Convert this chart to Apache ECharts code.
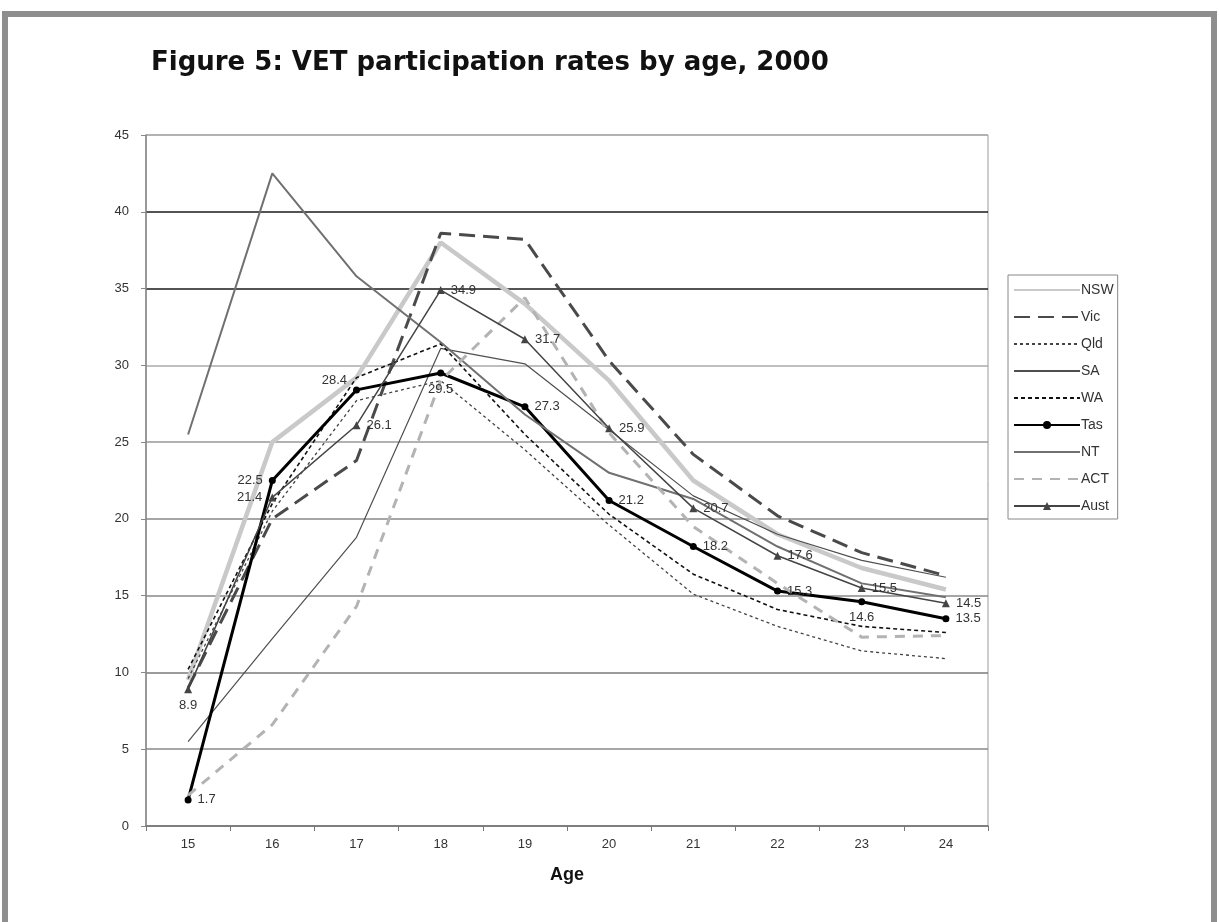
<!DOCTYPE html>
<html>
<head>
<meta charset="utf-8">
<script src="https://cdn.jsdelivr.net/npm/echarts@6/dist/echarts.min.js"></script>
<style>
  html, body { margin: 0; padding: 0; background: #fff; }
  #frame {
    position: absolute; left: 2px; top: 11px; width: 1203px; height: 930px;
    border: 6px solid #8e8e8e; border-bottom: none; pointer-events: none;
  }
  #vetChart { position: absolute; left: 0; top: 0; width: 1219px; height: 922px; }
</style>
</head>
<body>
<div id="vetChart"></div>
<div id="frame"></div>
<script>
// ages on the x axis
const ages = ['15', '16', '17', '18', '19', '20', '21', '22', '23', '24']
const yTicks = [0, 5, 10, 15, 20, 25, 30, 35, 40, 45]
const states = ['NSW', 'Vic', 'Qld', 'SA', 'WA', 'Tas', 'NT', 'ACT', 'Aust']

// participation rates (%)
const nsw = [9.5, 25.0, 29.2, 38.0, 34.0, 29.0, 22.5, 19.0, 16.8, 15.4]
const vic = [9.0, 20.0, 23.8, 38.6, 38.2, 30.3, 24.2, 20.2, 17.8, 16.3]
const qld = [9.6, 20.5, 27.7, 29.0, 24.5, 19.6, 15.1, 13.0, 11.4, 10.9]
const sa = [5.5, 12.2, 18.8, 31.1, 30.1, 25.8, 21.5, 19.0, 17.3, 16.2]
const wa = [10.2, 21.0, 29.2, 31.4, 25.5, 20.3, 16.4, 14.1, 13.0, 12.6]
const tas = [1.7, 22.5, 28.4, 29.5, 27.3, 21.2, 18.2, 15.3, 14.6, 13.5]
const nt = [25.5, 42.5, 35.8, 31.5, 26.8, 23.0, 21.3, 18.2, 15.8, 14.9]
const act = [2.0, 6.6, 14.3, 29.0, 34.4, 25.6, 19.5, 15.8, 12.3, 12.4]
const aust = [8.9, 21.4, 26.1, 34.9, 31.7, 25.9, 20.7, 17.6, 15.5, 14.5]

const chart = echarts.init(document.getElementById('vetChart'))

// where the value labels sit around each marker
const tasLabelAt = ['right', 'left', 'upleft', 'bottom', 'right', 'right', 'right', 'right', 'bottom', 'right']
const austLabelAt = ['bottom', 'left', 'right', 'right', 'right', 'right', 'right', 'right', 'right', 'right']

const labelText = { fontFamily: 'Liberation Sans, Arial, sans-serif', fontSize: 13, color: '#333' }

function labelled(values, places) {
  return values.map((v, i) => {
    let p = places[i]
    let label = Object.assign({ show: true, position: p, distance: 6 }, labelText)
    if (p === 'upleft') {
      label.position = 'left'
      label.offset = [0, -9]
    }
    return { value: v, label: label }
  })
}

function plain(name, values, color, width, type) {
  return {
    name: name,
    type: 'line',
    data: values,
    symbol: 'none',
    lineStyle: { color: color, width: width, type: type || 'solid' },
    itemStyle: { color: color },
    emphasis: { disabled: true }
  }
}

// only Tas and Aust carry markers, so hide the legend dot for the rest
const legendItems = states.map(s => {
  if (s === 'Tas' || s === 'Aust') return { name: s }
  return { name: s, itemStyle: { opacity: 0 } }
})

const option = {
  animation: false,
  title: {
    text: 'Figure 5: VET participation rates by age, 2000',
    left: 146,
    top: 45,
    textStyle: { fontFamily: 'DejaVu Sans', fontWeight: 'bold', fontSize: 26, color: '#111' }
  },
  grid: { left: 146, right: 231, top: 135, bottom: 96, show: true, borderColor: '#999', borderWidth: 1 },
  legend: {
    orient: 'vertical',
    left: 1008,
    top: 275,
    width: 104,
    padding: [8, 4, 6, 5],
    itemWidth: 66,
    itemHeight: 10,
    itemGap: 13,
    borderColor: '#888',
    borderWidth: 1,
    textStyle: { fontFamily: 'Liberation Sans, Arial, sans-serif', fontSize: 14, color: '#333', padding: [0, 0, 0, -4] },
    data: legendItems
  },
  xAxis: {
    type: 'category',
    data: ages,
    boundaryGap: true,
    name: 'Age',
    nameLocation: 'middle',
    nameGap: 40,
    nameTextStyle: { fontFamily: 'Liberation Sans, Arial, sans-serif', fontWeight: 'bold', fontSize: 18, color: '#111' },
    axisLine: { lineStyle: { color: '#777', width: 1.5 } },
    axisTick: { show: true, length: 5, lineStyle: { color: '#777' } },
    axisLabel: { margin: 12, fontFamily: 'Liberation Sans, Arial, sans-serif', fontSize: 13, color: '#333' }
  },
  yAxis: {
    type: 'value',
    min: yTicks[0],
    max: yTicks[yTicks.length - 1],
    interval: 5,
    axisLine: { show: true, lineStyle: { color: '#888', width: 1.5 } },
    axisTick: { show: true, length: 5, lineStyle: { color: '#888' } },
    axisLabel: { margin: 17, fontFamily: 'Liberation Sans, Arial, sans-serif', fontSize: 13, color: '#333' },
    splitLine: {
      lineStyle: {
        width: 1.5,
        color: ['#888', '#888', '#7a7a7a', '#888', '#888', '#999', '#aaa', '#1a1a1a', '#1a1a1a', '#aaa']
      }
    }
  },
  series: [
    plain('NSW', nsw, '#c9c9c9', 4.5),
    plain('Vic', vic, '#4a4a4a', 3, [16, 8]),
    plain('Qld', qld, '#444', 1.3, [3, 3]),
    plain('SA', sa, '#4f4f4f', 1.2),
    plain('WA', wa, '#111', 1.6, [4, 3]),
    {
      name: 'Tas',
      type: 'line',
      data: labelled(tas, tasLabelAt),
      symbol: 'circle',
      symbolSize: 7,
      lineStyle: { color: '#000', width: 3 },
      itemStyle: { color: '#000' },
      emphasis: { disabled: true }
    },
    plain('NT', nt, '#707070', 2),
    plain('ACT', act, '#b3b3b3', 3, [10, 8]),
    {
      name: 'Aust',
      type: 'line',
      data: labelled(aust, austLabelAt),
      symbol: 'triangle',
      symbolSize: 8,
      lineStyle: { color: '#444', width: 1.5 },
      itemStyle: { color: '#444' },
      emphasis: { disabled: true }
    }
  ]
}

chart.setOption(option)
</script>
</body>
</html>
